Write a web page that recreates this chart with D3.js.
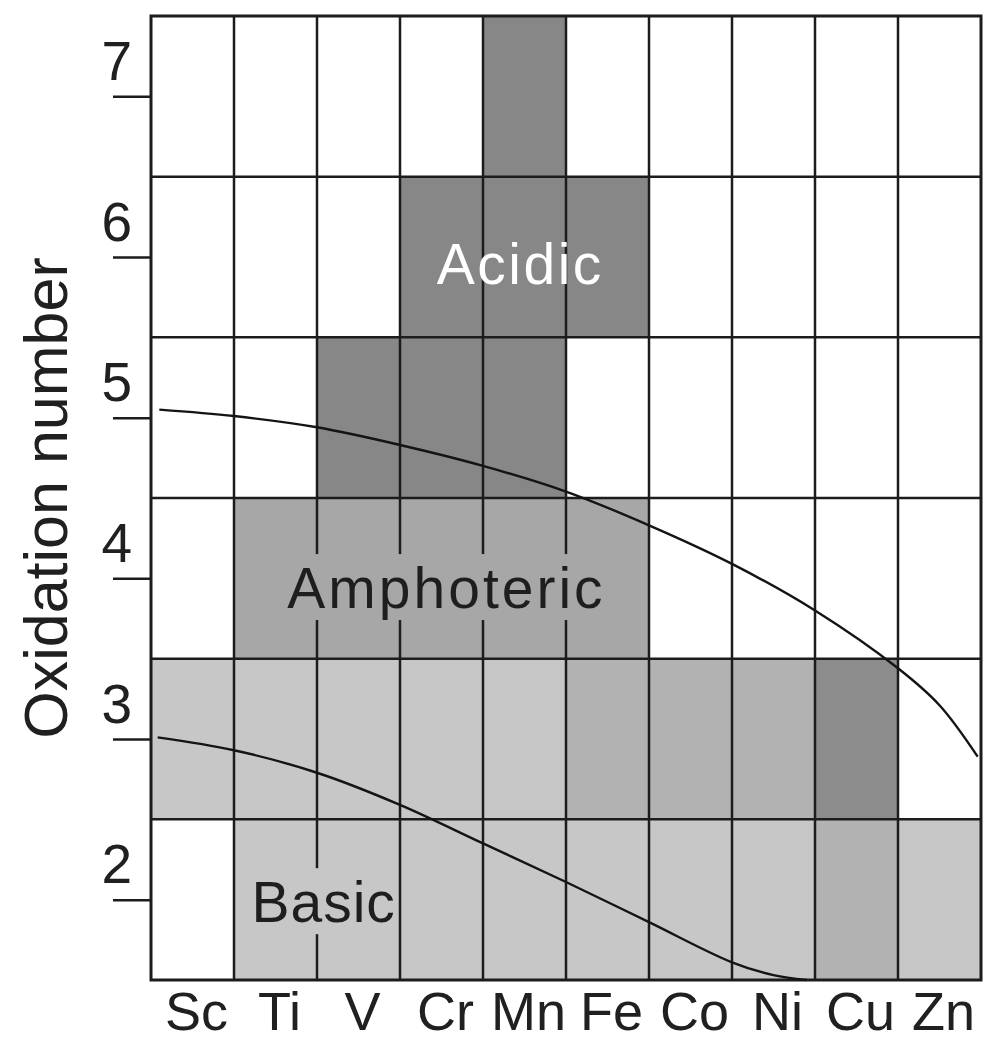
<!DOCTYPE html>
<html>
<head>
<meta charset="utf-8">
<script src="https://cdn.jsdelivr.net/npm/d3@7"></script>
<style>
  html, body { margin: 0; padding: 0; background: #fff; }
  svg { display: block; font-family: 'Liberation Sans', Arial, Helvetica, sans-serif; }
</style>
</head>
<body>
<div id="chart"></div>
<script>
const elements = ['Sc', 'Ti', 'V', 'Cr', 'Mn', 'Fe', 'Co', 'Ni', 'Cu', 'Zn'];
const oxidationNumbers = [2, 3, 4, 5, 6, 7];

// shade code of each cell, one list per oxidation number (0 = blank)
const shadeOx2 = [0, 1, 1, 1, 1, 1, 1, 1, 2, 1];
const shadeOx3 = [1, 1, 1, 1, 1, 2, 2, 2, 4, 0];
const shadeOx4 = [0, 3, 3, 3, 3, 3, 0, 0, 0, 0];
const shadeOx5 = [0, 0, 5, 5, 5, 0, 0, 0, 0, 0];
const shadeOx6 = [0, 0, 0, 5, 5, 5, 0, 0, 0, 0];
const shadeOx7 = [0, 0, 0, 0, 5, 0, 0, 0, 0, 0];

// boundary curves as [element position, oxidation number]
const acidicBoundary = [[0.1, 5.05], [1, 5.01], [2, 4.94], [3, 4.83], [4, 4.70], [5, 4.54],
  [6, 4.33], [7, 4.09], [8, 3.8], [9, 3.44], [9.5, 3.21], [9.96, 2.89]];
const basicBoundary = [[0.08, 3.01], [1, 2.93], [2, 2.79], [3, 2.59], [4, 2.35], [5, 2.11],
  [6, 1.86], [7, 1.61], [7.5, 1.53], [7.9, 1.5]];

const regionNames = ['Acidic', 'Amphoteric', 'Basic'];

function oxideChart() {

  let width = 987,
      height = 1042,
      margin = {top: 16, right: 6, bottom: 62, left: 151},
      gridColor = '#1c1c1c',
      gridWidth = 2.5,
      shades = ['none', '#c7c7c7', '#b2b2b2', '#a7a7a7', '#8c8c8c', '#878787'];

  // where each region name sits, in element / oxidation units
  const labelSpots = {
    Acidic: {at: [4.45, 5.83], fill: '#ffffff', mask: false, spacing: 2.5},
    Amphoteric: {at: [3.56, 3.815], fill: '#1e1e1e', mask: true, spacing: 3},
    Basic: {at: [2.08, 1.86], fill: '#1e1e1e', mask: true, spacing: 1}
  };

  let svg, canvas, x, band, y;

  function chart(selection) {
    selection.each(function() {
      svg = d3.select(this)
        .append('svg')
        .attr('width', width)
        .attr('height', height);

      canvas = svg.append('g');

      x = d3.scaleLinear()
        .domain([0, elements.length])
        .range([margin.left, width - margin.right]);

      band = d3.scaleBand()
        .domain(elements)
        .range(x.range());

      y = d3.scaleLinear()
        .domain([d3.min(oxidationNumbers) - 0.5, d3.max(oxidationNumbers) + 0.5])
        .range([height - margin.bottom, margin.top]);

      draw();
    });
  }

  // #region Chart drawing

  function draw() {
    drawCells();
    drawGrid();
    drawCurves();
    drawLabels();
    drawAxes();
  }

  function drawCells() {
    const rows = [shadeOx2, shadeOx3, shadeOx4, shadeOx5, shadeOx6, shadeOx7];
    const cells = [];
    rows.forEach((row, r) => row.forEach((shade, i) => {
      if (shade) cells.push({ox: oxidationNumbers[r], el: i, shade: shade});
    }));

    canvas.append('g')
      .attr('class', 'cells')
      .selectAll('rect')
      .data(cells)
      .join('rect')
      .attr('x', d => x(d.el))
      .attr('y', d => y(d.ox + 0.5))
      .attr('width', x(1) - x(0))
      .attr('height', d => y(d.ox - 0.5) - y(d.ox + 0.5))
      .attr('fill', d => shades[d.shade]);
  }

  function drawGrid() {
    const grid = canvas.append('g')
      .attr('class', 'grid')
      .attr('stroke', gridColor)
      .attr('stroke-width', gridWidth);

    grid.selectAll('line.v')
      .data(d3.range(1, elements.length))
      .join('line')
      .attr('class', 'v')
      .attr('x1', d => x(d)).attr('x2', d => x(d))
      .attr('y1', y.range()[1]).attr('y2', y.range()[0]);

    grid.selectAll('line.h')
      .data(oxidationNumbers.slice(1).map(d => d - 0.5))
      .join('line')
      .attr('class', 'h')
      .attr('x1', x.range()[0]).attr('x2', x.range()[1])
      .attr('y1', d => y(d)).attr('y2', d => y(d));

    grid.append('rect')
      .attr('x', x.range()[0])
      .attr('y', y.range()[1])
      .attr('width', x.range()[1] - x.range()[0])
      .attr('height', y.range()[0] - y.range()[1])
      .attr('fill', 'none')
      .attr('stroke-width', 3);
  }

  function drawCurves() {
    const line = d3.line()
      .x(d => x(d[0]))
      .y(d => y(d[1]))
      .curve(d3.curveCatmullRom.alpha(0.5));

    canvas.append('g')
      .attr('class', 'curves')
      .selectAll('path')
      .data([acidicBoundary, basicBoundary])
      .join('path')
      .attr('d', line)
      .attr('fill', 'none')
      .attr('stroke', '#141414')
      .attr('stroke-width', 2.4);
  }

  function drawLabels() {
    const rows = {2: shadeOx2, 3: shadeOx3, 4: shadeOx4, 5: shadeOx5, 6: shadeOx6, 7: shadeOx7};
    const layer = canvas.append('g').attr('class', 'region-labels');

    regionNames.forEach(name => {
      const spot = labelSpots[name];
      const g = layer.append('g');
      const text = g.append('text')
        .attr('x', x(spot.at[0]))
        .attr('y', y(spot.at[1]))
        .attr('text-anchor', 'middle')
        .attr('font-size', 57)
        .attr('letter-spacing', spot.spacing)
        .attr('fill', spot.fill)
        .text(name);

      if (spot.mask) {
        // the grid lines stop short of the dark labels
        const box = text.node().getBBox();
        const row = rows[Math.round(spot.at[1])];
        g.insert('rect', 'text')
          .attr('x', box.x - 2)
          .attr('y', box.y - 2)
          .attr('width', box.width + 2)
          .attr('height', box.height + 2)
          .attr('fill', shades[row[Math.floor(spot.at[0])]]);
      }
    });
  }

  function drawAxes() {
    const yAxis = d3.axisLeft(y)
      .tickValues(oxidationNumbers)
      .tickSize(38)
      .tickFormat(d3.format('d'));

    const yg = svg.append('g')
      .attr('transform', `translate(${margin.left}, 0)`)
      .call(yAxis);
    yg.select('.domain').remove();
    yg.selectAll('.tick line')
      .attr('stroke', gridColor)
      .attr('stroke-width', gridWidth);
    yg.selectAll('.tick text')
      .attr('x', -19)
      .attr('y', -17)
      .attr('dy', null)
      .attr('font-size', 55)
      .attr('font-family', null)
      .attr('fill', '#202020');

    const xAxis = d3.axisBottom(band).tickSize(0);
    const xg = svg.append('g')
      .attr('transform', `translate(0, ${height - margin.bottom})`)
      .call(xAxis);
    xg.select('.domain').remove();
    xg.selectAll('.tick text')
      .attr('y', 50)
      .attr('dy', null)
      .attr('dx', 4)
      .attr('font-size', 54)
      .attr('font-family', null)
      .attr('fill', '#202020');

    svg.append('text')
      .attr('transform', `translate(67, ${(y.range()[0] + y.range()[1]) / 2}) rotate(-90)`)
      .attr('text-anchor', 'middle')
      .attr('font-size', 61)
      .attr('fill', '#202020')
      .text('Oxidation number');
  }

  // #endregion

  // #region Getters and Setters

  chart.width = function(value) {
    if (!arguments.length) {
      return width;
    }
    width = value;

    return chart;
  };

  chart.height = function(value) {
    if (!arguments.length) {
      return height;
    }
    height = value;

    return chart;
  };

  // #endregion

  return chart;
}

d3.select('#chart').call(oxideChart());
</script>
</body>
</html>
